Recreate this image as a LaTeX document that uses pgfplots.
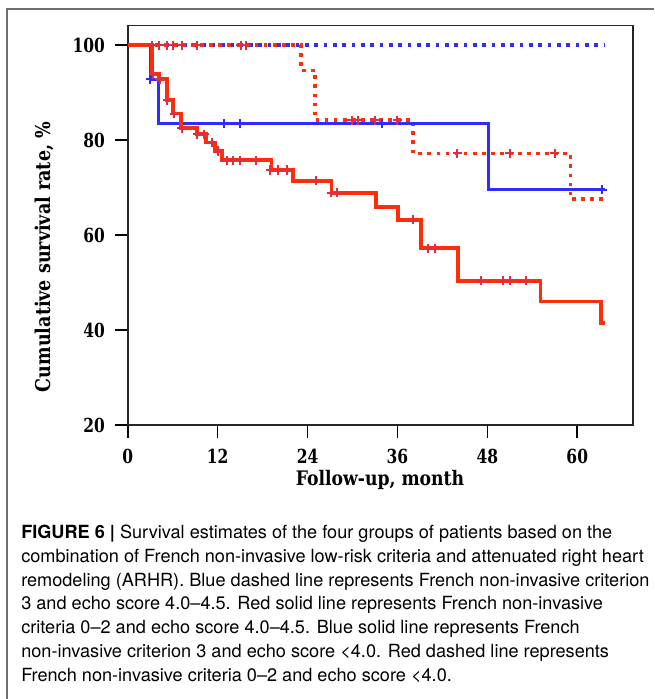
\documentclass[border=0pt]{standalone}
\usepackage{fontspec}
\usepackage{pgfplots}
\pgfplotsset{compat=1.18}
\newfontfamily\capfont{TeX Gyre Heros}
\newfontfamily\axfont{DejaVu Serif}[FakeStretch=0.8]
\newfontfamily\labfont{DejaVu Serif}[FakeStretch=0.86]
\definecolor{kmred}{RGB}{255,45,10}
\definecolor{kmblue}{RGB}{45,45,255}
\definecolor{mkred}{RGB}{228,45,60}
\definecolor{mkblue}{RGB}{45,45,255}
\definecolor{framegray}{RGB}{110,110,110}
\begin{document}
\begin{tikzpicture}
\path[use as bounding box] (0,0) rectangle (490.5pt,524.25pt);
\draw[framegray, line width=1pt] (5.25pt,0) -- (5.25pt,517.5pt) -- (490.5pt,517.5pt);
\begin{axis}[
 at={(95.775pt,205.5pt)}, anchor=south west,
 scale only axis, width=378.75pt, height=299.5pt,
 xmin=0, xmax=67.4, ymin=20, ymax=104.1,
 xtick={0,12,24,36,48,60}, ytick={20,40,60,80,100},
 tick align=outside, xtick pos=bottom, ytick pos=left,
 major tick length=9.5pt,
 every tick/.style={black, line width=1.2pt},
 axis line style={black!85, line width=1.2pt},
 tick label style={font=\axfont\bfseries\fontsize{14.5}{16}\selectfont},
 yticklabel style={xshift=-4pt},
 xticklabel style={yshift=-5pt},
 /pgf/number format/assume math mode=true,
 clip=false,
]
\addplot[kmblue, line width=2.6pt, dash pattern=on 2.8pt off 4.2pt, const plot] coordinates {(0,100) (63.7,100)};
\addplot[kmred, line width=2.6pt, dash pattern=on 2.8pt off 4pt, const plot] coordinates {(0,100) (23.1,94.7) (25.0,84.2) (38.1,77.2) (59.1,67.6) (63.7,67.6)};
\addplot[only marks, mark=+, mark size=3.4pt, mkred, mark options={line width=1.5pt}] coordinates {(4.2,100) (5.2,100) (6.1,100) (7.2,100) (9.2,100) (15.1,100) (15.8,100) (29.9,84.2) (30.8,84.2) (33.0,84.2) (36.0,84.2) (44.0,77.2) (51.0,77.2) (57.0,77.2)};
\addplot[kmblue, line width=2.3pt, const plot] coordinates {(0,100) (3.0,92.8) (4.05,83.4) (48.2,69.5) (63.7,69.5)};
\addplot[only marks, mark=+, mark size=3.4pt, mkblue, mark options={line width=1.5pt}] coordinates {(3.0,92.8) (12.9,83.4) (15.0,83.4) (34.0,83.4) (63.3,69.5)};
\addplot[kmred, line width=2.9pt, const plot] coordinates {(0,100) (3.2,93.9) (4.2,92.8) (5.2,88.4) (6.1,85.6) (7.1,82.5) (9.2,81.2) (10.5,79.5) (11.6,77.7) (12.6,75.8) (19.2,73.7) (22.1,71.4) (27.2,68.9) (33.1,66.0) (36.1,63.2) (39.2,57.2) (44.1,50.4) (55.1,46.0) (63.2,41.4) (63.7,41.4)};
\addplot[only marks, mark=+, mark size=3.4pt, mkred, mark options={line width=1.5pt}] coordinates {(3.3,100) (3.4,93.9) (4.3,92.8) (5.3,88.4) (6.2,85.6) (7.2,82.5) (9.3,81.2) (10.2,81.2) (11.2,79.5) (12.1,77.7) (13.2,75.8) (14.1,75.8) (15.0,75.8) (17.1,75.8) (19.0,73.7) (20.1,73.7) (21.2,73.7) (25.1,71.4) (27.2,68.9) (28.0,68.9) (38.1,63.2) (40.1,57.2) (41.0,57.2) (47.1,50.4) (50.1,50.4) (51.0,50.4) (53.1,50.4)};
\end{axis}
\node[rotate=90, font=\labfont\bfseries\fontsize{15.3}{17}\selectfont] at (33pt,331.5pt) {Cumulative survival rate, \%};
\node[font=\labfont\bfseries\fontsize{15}{17}\selectfont] at (285pt,164.25pt) {Follow-up, month};
\begin{scope}[every node/.style={anchor=base west, inner sep=0pt, font=\capfont\fontsize{13.6}{15}\selectfont}]
\node at (15.75pt,120pt) {\textbf{FIGURE 6 |} Survival estimates of the four groups of patients based on the};
\node at (15.75pt,102pt) {combination of French non-invasive low-risk criteria and attenuated right heart};
\node at (15.75pt,84pt) {remodeling (ARHR). Blue dashed line represents French non-invasive criterion};
\node at (15.75pt,66.75pt) {3 and echo score 4.0–4.5. Red solid line represents French non-invasive};
\node at (15.75pt,48.75pt) {criteria 0–2 and echo score 4.0–4.5. Blue solid line represents French};
\node at (15.75pt,30.75pt) {non-invasive criterion 3 and echo score <4.0. Red dashed line represents};
\node at (15.75pt,12.75pt) {French non-invasive criteria 0–2 and echo score <4.0.};
\end{scope}
\end{tikzpicture}
\end{document}
